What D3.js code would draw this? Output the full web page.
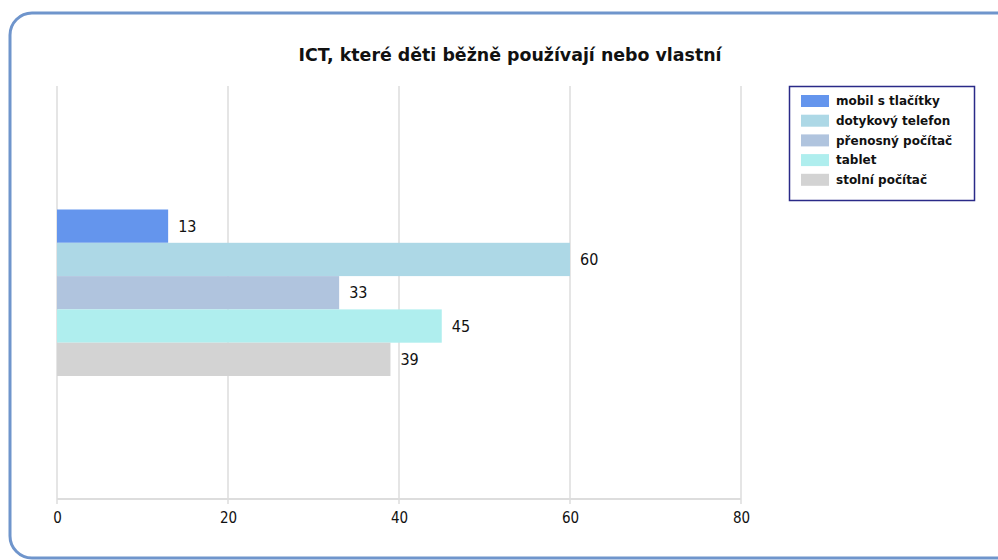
<!DOCTYPE html>
<html>
<head>
<meta charset="utf-8">
<script src="https://cdn.jsdelivr.net/npm/d3@7"></script>
<style>
  body { margin: 0; background: #fff; }
  svg { display: block; }
</style>
</head>
<body>
<svg id="chart" width="998" height="560"></svg>
<script>
const categories = ['mobil s tlačítky', 'dotykový telefon', 'přenosný počítač', 'tablet', 'stolní počítač'];
const values = [13, 60, 33, 45, 39];
const colors = ['#6495ED', '#ADD8E6', '#B0C4DE', '#AFEEEE', '#D3D3D3'];
const xTicks = [0, 20, 40, 60, 80];
const title = 'ICT, které děti běžně používají nebo vlastní';

const svg = d3.select('#chart');
const narrow = '"Liberation Sans Narrow", "DejaVu Sans Condensed", sans-serif';

// frame
svg.append('rect')
  .attr('x', 10).attr('y', 13)
  .attr('width', 1010).attr('height', 545)
  .attr('rx', 22).attr('ry', 22)
  .attr('fill', '#fff')
  .attr('stroke', '#6f95cc')
  .attr('stroke-width', 3);

svg.append('text')
  .attr('x', 510).attr('y', 61)
  .attr('text-anchor', 'middle')
  .style('font-family', 'Tahoma, "DejaVu Sans", sans-serif')
  .style('font-weight', 'bold')
  .style('font-size', '17.4px')
  .attr('fill', '#111')
  .text(title);

const x = d3.scaleLinear().domain([0, 80]).range([57, 741]);
const plotTop = 86, plotBottom = 499;

// band for the one group, bars stacked inside it
const y = d3.scaleBand().domain(categories).range([209.5, 376]);

// gridlines
svg.append('g')
  .selectAll('line')
  .data(xTicks)
  .join('line')
  .attr('x1', d => x(d)).attr('x2', d => x(d))
  .attr('y1', plotTop).attr('y2', plotBottom + 5)
  .attr('stroke', '#ddd')
  .attr('stroke-width', 1.5);

svg.append('line')
  .attr('x1', x(0)).attr('x2', x(80))
  .attr('y1', plotBottom).attr('y2', plotBottom)
  .attr('stroke', '#ddd')
  .attr('stroke-width', 2);

const axis = svg.append('g')
  .attr('transform', `translate(0,${plotBottom + 5})`)
  .call(d3.axisBottom(x).tickValues(xTicks).tickSize(0).tickPadding(8));
axis.select('.domain').remove();
axis.selectAll('text')
  .style('font-family', narrow)
  .style('font-size', '15px')
  .attr('fill', '#111');

svg.append('g')
  .selectAll('rect')
  .data(values)
  .join('rect')
  .attr('x', x(0))
  .attr('y', (d, i) => y(categories[i]))
  .attr('width', d => x(d) - x(0))
  .attr('height', y.bandwidth())
  .attr('fill', (d, i) => colors[i]);

svg.append('g')
  .selectAll('text')
  .data(values)
  .join('text')
  .attr('x', d => x(d) + 10)
  .attr('y', (d, i) => y(categories[i]) + y.bandwidth() / 2)
  .attr('dy', '0.35em')
  .style('font-family', narrow)
  .style('font-size', '16px')
  .attr('fill', '#111')
  .text(d => d);

// legend
const lg = svg.append('g');
lg.append('rect')
  .attr('x', 789.5).attr('y', 86.5)
  .attr('width', 185).attr('height', 114)
  .attr('fill', '#fff')
  .attr('stroke', '#2a2a88')
  .attr('stroke-width', 1.5);

const item = lg.selectAll('g')
  .data(categories)
  .join('g')
  .attr('transform', (d, i) => `translate(801,${101 + i * 19.7})`);
item.append('rect')
  .attr('x', 0).attr('y', -6)
  .attr('width', 28).attr('height', 12)
  .attr('fill', (d, i) => colors[i]);
item.append('text')
  .attr('x', 35).attr('y', 0)
  .attr('dy', '0.35em')
  .style('font-family', '"DejaVu Sans", sans-serif')
  .style('font-weight', 'bold')
  .style('font-size', '12px')
  .attr('fill', '#111')
  .text(d => d);
</script>
</body>
</html>
